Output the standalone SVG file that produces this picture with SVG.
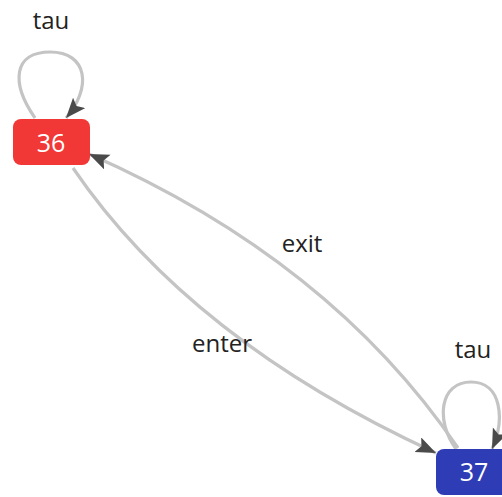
<svg xmlns="http://www.w3.org/2000/svg" width="502" height="497" viewBox="0 0 502 497">
<style>
.edge{fill:none;stroke:#c4c4c4;stroke-width:3.2}
.lbl{font-family:"Open Sans","Noto Sans",sans-serif;font-size:24px;fill:#222;text-anchor:middle}
.ntxt{font-family:"Open Sans","Noto Sans",sans-serif;font-size:25px;fill:#fff;text-anchor:middle}
</style>
<defs>
<marker id="arr" markerUnits="userSpaceOnUse" markerWidth="21" markerHeight="17" refX="20" refY="8" orient="auto">
<path d="M0,0 L20,8 L0,16 L4,8 z" fill="#4a4a4a"/>
</marker>
</defs>
<rect width="502" height="497" fill="#fff"/>
<g id="connectors">
<g id="e36-36"><path class="edge" d="M35 118 C10 82 14 52 50 52 C88 52 92 88 66 118" marker-end="url(#arr)"/><text class="lbl" x="51" y="29">tau</text></g>
<g id="e36-37"><path class="edge" d="M73 168 Q190 340 436 453" marker-end="url(#arr)"/><text class="lbl" x="222" y="352">enter</text></g>
<g id="e37-36"><path class="edge" d="M458 448 Q330 260 89 154" marker-end="url(#arr)"/><text class="lbl" x="302" y="252">exit</text></g>
<g id="e37-37"><path class="edge" d="M456 449 C435 420 440 382 471 382 C502 382 505 420 492 449" marker-end="url(#arr)"/><text class="lbl" x="473" y="358">tau</text></g>
</g>
<g id="n36"><rect x="13" y="119" width="77" height="46" rx="8" fill="#f23737"/><text class="ntxt" x="51" y="152">36</text></g>
<g id="n37"><rect x="436" y="449" width="76" height="46" rx="8" fill="#2e3db5"/><text class="ntxt" x="474" y="481">37</text></g>
</svg>
